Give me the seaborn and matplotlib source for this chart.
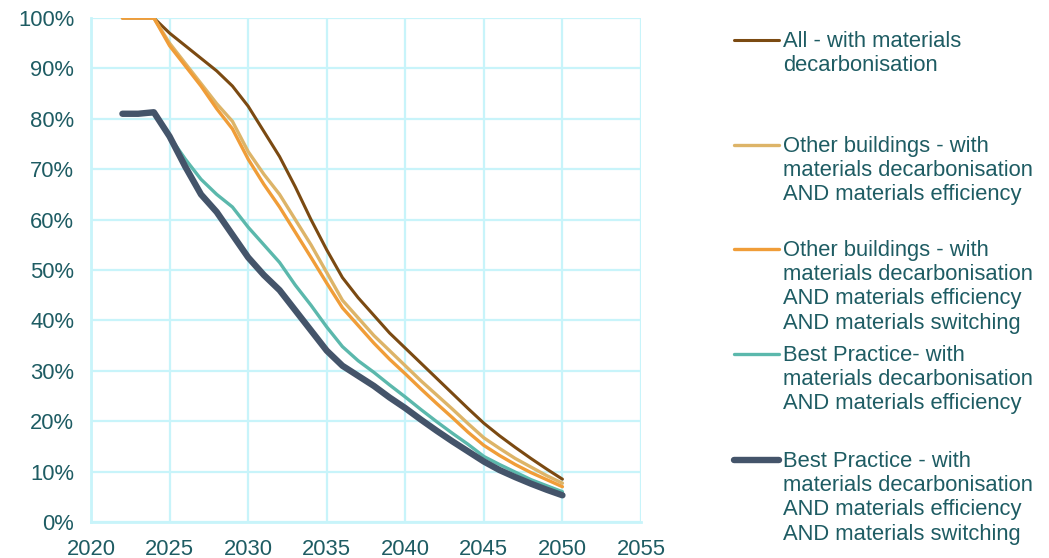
import matplotlib
matplotlib.use("Agg")
import matplotlib.pyplot as plt
from matplotlib.lines import Line2D
import seaborn as sns
import pandas as pd

years = list(range(2022, 2051))

all_decarb = [100, 100, 100, 97, 94.5, 92, 89.5, 86.5, 82.5, 77.5, 72.5, 66.5, 60, 54,
              48.5, 44.5, 41, 37.5, 34.5, 31.5, 28.5, 25.5, 22.5, 19.6, 17.1, 14.8, 12.6, 10.5, 8.5]
other_eff = [100, 100, 100, 95, 91, 87, 83, 79.5, 73.5, 69, 65, 60, 55, 49.5,
             44, 40.5, 37, 34, 31, 28, 25.2, 22.4, 19.5, 16.7, 14.6, 12.6, 10.9, 9.2, 7.7]
other_eff_sw = [100, 100, 100, 94.5, 90.5, 86.5, 82, 78, 72, 67, 62.5, 57.5, 52.5, 47.4,
                42.5, 39, 35.5, 32.3, 29.4, 26.4, 23.5, 20.7, 17.8, 15.2, 13.2, 11.4, 9.8, 8.4, 7.0]
best_eff = [81, 81, 81, 76.5, 72, 68, 65, 62.5, 58.5, 55, 51.5, 47, 43, 38.7,
            34.8, 32, 29.7, 27.2, 24.8, 22.3, 19.9, 17.6, 15.4, 13.0, 11.4, 9.9, 8.4, 7.2, 6.0]
best_eff_sw = [81, 81, 81.3, 76.5, 70.5, 65, 61.5, 57, 52.5, 49, 46, 42, 38, 34,
               31, 29, 27, 24.7, 22.6, 20.3, 18.1, 16.0, 14.0, 12.0, 10.3, 8.9, 7.6, 6.4, 5.3]

labels = [
    "All - with materials\ndecarbonisation",
    "Other buildings - with\nmaterials decarbonisation\nAND materials efficiency",
    "Other buildings - with\nmaterials decarbonisation\nAND materials efficiency\nAND materials switching",
    "Best Practice- with\nmaterials decarbonisation\nAND materials efficiency",
    "Best Practice - with\nmaterials decarbonisation\nAND materials efficiency\nAND materials switching",
]
series = [all_decarb, other_eff, other_eff_sw, best_eff, best_eff_sw]
colors = ["#7B4A12", "#DDB468", "#F09D38", "#5BB8AC", "#44546A"]
widths = [2.2, 2.4, 2.4, 2.4, 4.6]

df = pd.concat(
    [pd.DataFrame({"year": years, "value": [v / 100 for v in s], "scenario": lab})
     for s, lab in zip(series, labels)],
    ignore_index=True,
)

sns.set_theme(style="white")
plt.rcParams["font.family"] = ["Liberation Sans", "DejaVu Sans"]
text_color = "#1E5C63"
grid_color = "#C8F4FA"
font_size = 15.8

fig = plt.figure(figsize=(10.49, 5.58), dpi=100)
ax = fig.add_axes([91 / 1049, 36 / 558, 550 / 1049, 504 / 558])

for lab, col, lw in zip(labels, colors, widths):
    sns.lineplot(data=df[df["scenario"] == lab], x="year", y="value", ax=ax,
                 color=col, linewidth=lw, solid_capstyle="round", legend=False)

ax.set_xlim(2020, 2055)
ax.set_ylim(0, 1)
ax.set_xticks(range(2020, 2056, 5))
ax.set_yticks([i / 10 for i in range(11)])
ax.set_yticklabels([f"{i * 10}%" for i in range(11)])
ax.grid(True, color=grid_color, linewidth=1.6)
ax.set_axisbelow(True)
for side in ["top", "right"]:
    ax.spines[side].set_visible(False)
for side in ["left", "bottom"]:
    ax.spines[side].set_color(grid_color)
    ax.spines[side].set_linewidth(2)
ax.tick_params(axis="both", length=0, labelsize=font_size, colors=text_color)
ax.tick_params(axis="y", pad=12)
ax.tick_params(axis="x", pad=12)
ax.set_xlabel("")
ax.set_ylabel("")

# Legend with the key line level with the first text line of each entry
entry_rows = [40, 145, 249, 354, 460]
for lab, col, lw, y in zip(labels, colors, widths, entry_rows):
    fy = 1 - y / 558
    fig.add_artist(Line2D([734 / 1049, 779 / 1049], [fy, fy], color=col,
                          linewidth=lw, solid_capstyle="round"))
    fig.text(783 / 1049, fy + 9 / 558, lab, color=text_color, fontsize=font_size,
             va="top", ha="left", linespacing=1.2)

fig.savefig("out.png", dpi=100, facecolor="white")
